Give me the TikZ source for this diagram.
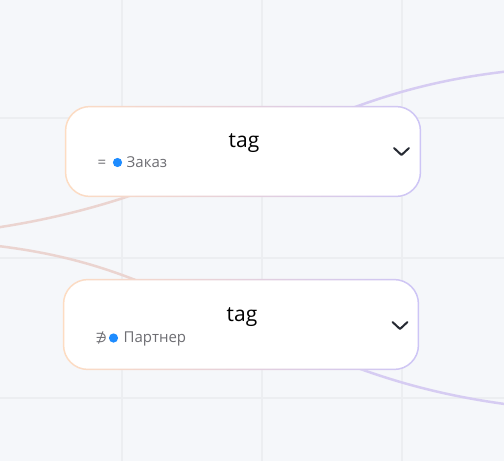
\documentclass[tikz,border=0pt]{standalone}
\usepackage{fontspec}
\setmainfont{Open Sans}
\newfontfamily\symfont{DejaVu Sans}
\definecolor{bg}{HTML}{F5F7FA}
\definecolor{gridc}{HTML}{ECEEF1}
\definecolor{peach}{HTML}{FDDCC2}
\definecolor{lav}{HTML}{CDC5F6}
\definecolor{peachline}{HTML}{EBD4D0}
\definecolor{lavline}{HTML}{D6CCF2}
\definecolor{subgray}{HTML}{6E6E73}
\definecolor{dotblue}{HTML}{1E8CFF}
\definecolor{chev}{HTML}{262A33}
\tikzset{
  boxnode/.style={minimum width=356pt,minimum height=91pt,inner sep=0pt,fill=white,rounded corners=25pt},
  titletext/.style={inner sep=0pt,anchor=base,font=\fontsize{21}{25}\selectfont,text=black},
  subtext/.style={inner sep=0pt,anchor=base west,font=\fontsize{15}{18}\selectfont,text=subgray},
  gridline/.style={draw=gridc,line width=1.5pt},
  conpeach/.style={draw=peachline,line width=2.5pt},
  conlav/.style={draw=lavline,line width=2.5pt},
  chevron/.style={draw=chev,line width=2pt,line cap=round,line join=round},
}
\begin{document}
\begin{tikzpicture}[x=1pt,y=-1pt]
\useasboundingbox (0,0) rectangle (504,461);
\fill[bg] (0,0) rectangle (504,461);
% grid
\foreach \gx in {122,262,402} \draw[gridline] (\gx,0) -- (\gx,461);
\foreach \gy in {118,258,398} \draw[gridline] (0,\gy) -- (504,\gy);
% coordinates for connector ends
\coordinate (t1) at (310,125);
\coordinate (r1) at (520,70);
\coordinate (l1) at (-20,230);
\coordinate (h1) at (160,185);
\coordinate (l2) at (-20,244);
\coordinate (h2) at (170,295);
\coordinate (t2) at (300,345);
\coordinate (r2) at (520,406);
% connectors
\draw[conlav] (t1) .. controls (380,95) and (440,78) .. (r1);
\draw[conpeach] (l1) .. controls (40,222) and (100,208) .. (h1);
\draw[conpeach] (l2) .. controls (40,250) and (100,262) .. (h2);
\draw[conlav] (t2) .. controls (370,375) and (430,395) .. (r2);
% boxes
\node[boxnode] (b1) at (243,151.5) {};
\node[boxnode] (b2) at (241,324.5) {};
\foreach \b in {b1,b2}{
  \shade[left color=peach,right color=lav,even odd rule]
    [rounded corners=25pt] (\b.south west) rectangle (\b.north east)
    [rounded corners=23.5pt] ([shift={(1.5,-1.5)}]\b.south west) rectangle ([shift={(-1.5,1.5)}]\b.north east);
}
% titles
\node[titletext] (tt1) at (244,147) {tag};
\node[titletext] (tt2) at (242,321) {tag};
% subtitles
\node[subtext] (s1a) at (97.5,167) {=};
\fill[dotblue] (117.5,162.5) circle (4.6);
\node[subtext] (s1b) at (126.5,167) {Заказ};
\node[subtext] (s2a) at (95.5,342) {\symfont\fontsize{13}{15}\selectfont ∌};
\fill[dotblue] (113.5,338) circle (4.6);
\node[subtext] (s2b) at (123.5,342) {Партнер};
% chevrons
\draw[chevron] (394,148) -- (401.5,155) -- (409,148);
\draw[chevron] (392.5,322) -- (400,329) -- (407.5,322);
\end{tikzpicture}
\end{document}
